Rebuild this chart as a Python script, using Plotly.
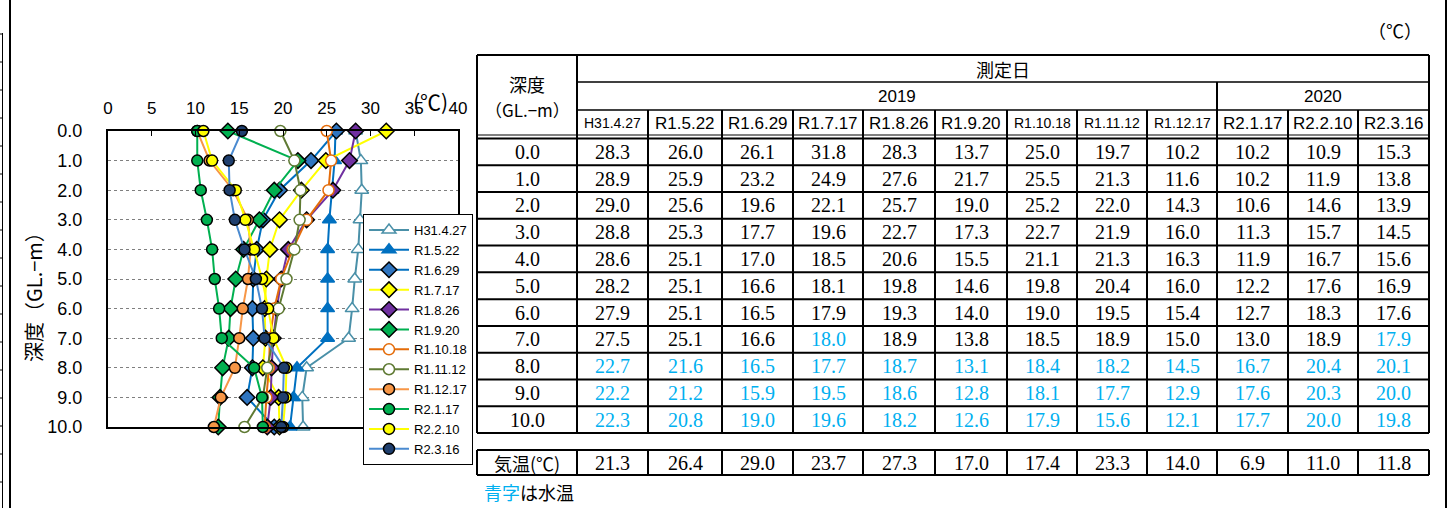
import plotly.graph_objects as go

W, H = 1456, 508

# ---------------- data ----------------
depths = [0.0, 1.0, 2.0, 3.0, 4.0, 5.0, 6.0, 7.0, 8.0, 9.0, 10.0]
dates = ["H31.4.27", "R1.5.22", "R1.6.29", "R1.7.17", "R1.8.26", "R1.9.20",
         "R1.10.18", "R1.11.12", "R1.12.17", "R2.1.17", "R2.2.10", "R2.3.16"]
years = ["2019", "2020"]
year_col_counts = [9, 3]

t_H31_4_27 = [28.3, 28.9, 29.0, 28.8, 28.6, 28.2, 27.9, 27.5, 22.7, 22.2, 22.3]
t_R1_5_22 = [26.0, 25.9, 25.6, 25.3, 25.1, 25.1, 25.1, 25.1, 21.6, 21.2, 20.8]
t_R1_6_29 = [26.1, 23.2, 19.6, 17.7, 17.0, 16.6, 16.5, 16.6, 16.5, 15.9, 19.0]
t_R1_7_17 = [31.8, 24.9, 22.1, 19.6, 18.5, 18.1, 17.9, 18.0, 17.7, 19.5, 19.6]
t_R1_8_26 = [28.3, 27.6, 25.7, 22.7, 20.6, 19.8, 19.3, 18.9, 18.7, 18.6, 18.2]
t_R1_9_20 = [13.7, 21.7, 19.0, 17.3, 15.5, 14.6, 14.0, 13.8, 13.1, 12.8, 12.6]
t_R1_10_18 = [25.0, 25.5, 25.2, 22.7, 21.1, 19.8, 19.0, 18.5, 18.4, 18.1, 17.9]
t_R1_11_12 = [19.7, 21.3, 22.0, 21.9, 21.3, 20.4, 19.5, 18.9, 18.2, 17.7, 15.6]
t_R1_12_17 = [10.2, 11.6, 14.3, 16.0, 16.3, 16.0, 15.4, 15.0, 14.5, 12.9, 12.1]
t_R2_1_17 = [10.2, 10.2, 10.6, 11.3, 11.9, 12.2, 12.7, 13.0, 16.7, 17.6, 17.7]
t_R2_2_10 = [10.9, 11.9, 14.6, 15.7, 16.7, 17.6, 18.3, 18.9, 20.4, 20.3, 20.0]
t_R2_3_16 = [15.3, 13.8, 13.9, 14.5, 15.6, 16.9, 17.6, 17.9, 20.1, 20.0, 19.8]

air_temp = [21.3, 26.4, 29.0, 23.7, 27.3, 17.0, 17.4, 23.3, 14.0, 6.9, 11.0, 11.8]
# depth from which the value is water temperature (blue text)
water_from = [8.0, 8.0, 8.0, 7.0, 8.0, 8.0, 8.0, 8.0, 8.0, 8.0, 8.0, 7.0]

series = [t_H31_4_27, t_R1_5_22, t_R1_6_29, t_R1_7_17, t_R1_8_26, t_R1_9_20,
          t_R1_10_18, t_R1_11_12, t_R1_12_17, t_R2_1_17, t_R2_2_10, t_R2_3_16]

# ---------------- styles ----------------
styles = [
    dict(line="#4A90A8", symbol="triangle-up", fill="#FFFFFF", edge="#4A90A8", size=12),
    dict(line="#0070C0", symbol="triangle-up", fill="#0070C0", edge="#0070C0", size=12),
    dict(line="#0070C0", symbol="diamond", fill="#2F75C0", edge="#000000", size=12),
    dict(line="#FFFF00", symbol="diamond", fill="#FFFF00", edge="#000000", size=12),
    dict(line="#7030A0", symbol="diamond", fill="#7030A0", edge="#000000", size=12),
    dict(line="#00B050", symbol="diamond", fill="#00B050", edge="#000000", size=12),
    dict(line="#E46C0A", symbol="circle", fill="#FFFFFF", edge="#E46C0A", size=11),
    dict(line="#5F7A33", symbol="circle", fill="#FFFFFF", edge="#5F7A33", size=11),
    dict(line="#F79646", symbol="circle", fill="#F79646", edge="#000000", size=11),
    dict(line="#00B050", symbol="circle", fill="#00B050", edge="#000000", size=11),
    dict(line="#FFFF00", symbol="circle", fill="#FFFF00", edge="#000000", size=11),
    dict(line="#4A8AD0", symbol="circle", fill="#1F3F6E", edge="#000000", size=11),
]

SANS = "Liberation Sans, Arial, sans-serif"
SERIF = "Liberation Serif, Times New Roman, serif"
CJK = "Noto Sans CJK JP, sans-serif"
BLUE_TXT = "#00B0F0"


def fx(x):
    return x / W


def fy(y):
    return 1 - y / H


fig = go.Figure()

for name, vals, st in zip(dates, series, styles):
    fig.add_trace(go.Scatter(
        x=vals, y=depths, name=name, mode="lines+markers",
        line=dict(color=st["line"], width=2),
        marker=dict(symbol=st["symbol"], size=st["size"], color=st["fill"],
                    line=dict(color=st["edge"], width=1.5)),
        cliponaxis=False,
    ))

# chart geometry (pixels)
PL, PR, PT, PB = 108, 458, 131, 427

fig.update_layout(
    width=W, height=H, autosize=False,
    margin=dict(l=0, r=0, t=0, b=0, pad=0, autoexpand=False),
    paper_bgcolor="white", plot_bgcolor="white",
    showlegend=True,
    legend=dict(
        x=fx(363), y=fy(214), xanchor="left", yanchor="top",
        bgcolor="white", bordercolor="black", borderwidth=1,
        font=dict(family=SANS, size=13, color="black"),
        itemwidth=40, tracegroupgap=0,
    ),
    xaxis=dict(
        domain=[fx(PL), fx(PR)], range=[0, 40], side="top", automargin=False,
        tickvals=[0, 5, 10, 15, 20, 25, 30, 35, 40],
        ticks="inside", ticklen=5, tickcolor="black", tickwidth=1,
        showgrid=False, zeroline=False,
        showline=True, linecolor="black", linewidth=2, mirror=True,
        tickfont=dict(family=SANS, size=17, color="black"),
        ticklabelstandoff=8,
    ),
    yaxis=dict(
        domain=[fy(PB), fy(PT)], range=[10, 0], automargin=False,
        tickvals=depths, tickformat=".1f",
        ticks="", showgrid=True, gridcolor="#7F7F7F", griddash="dot", gridwidth=1,
        zeroline=False,
        showline=True, linecolor="black", linewidth=2, mirror=True,
        tickfont=dict(family=SANS, size=18, color="black"),
        ticklabelstandoff=20,
    ),
)

annotations = []
shapes = []

# chart unit + axis title
annotations.append(dict(x=fx(430), y=fy(101), xref="paper", yref="paper", text="(℃)",
                        xanchor="center", yanchor="middle",
                        showarrow=False, font=dict(family=CJK, size=21, color="black")))
annotations.append(dict(x=fx(33), y=fy(292), xref="paper", yref="paper", text="深度（GL.−m）",
                        textangle=-90, showarrow=False, xanchor="center", yanchor="middle",
                        font=dict(family=CJK, size=20, color="black")))

# left-edge decorations
shapes.append(dict(type="line", xref="paper", yref="paper", x0=fx(2.5), x1=fx(2.5),
                   y0=fy(33), y1=fy(508), line=dict(color="black", width=1)))
ty = 34
while ty < H:
    shapes.append(dict(type="line", xref="paper", yref="paper", x0=fx(0), x1=fx(2.5),
                       y0=fy(ty), y1=fy(ty), line=dict(color="black", width=1)))
    ty += 28
shapes.append(dict(type="line", xref="paper", yref="paper", x0=fx(10), x1=fx(10),
                   y0=fy(0), y1=fy(508), line=dict(color="black", width=2)))
shapes.append(dict(type="line", xref="paper", yref="paper", x0=fx(1446), x1=fx(1446),
                   y0=fy(0), y1=fy(508), line=dict(color="black", width=2)))

# ---------------- table ----------------
TL, DC = 477, 577
col_widths = [71, 74, 71, 70, 72, 72, 70, 70, 70, 71, 70, 71]
edges = [DC]
for w_ in col_widths:
    edges.append(edges[-1] + w_)
TR = edges[-1]
T_TOP, R1, R2, R3a, R3b = 55, 82, 110, 135, 138.5
ROW_H = (433 - R3b) / len(depths)
row_edges = [R3b + i * ROW_H for i in range(len(depths) + 1)]
AT_TOP, AT_BOT = 450, 475


def hline(y, x0, x1, w=2):
    shapes.append(dict(type="line", xref="paper", yref="paper", x0=fx(x0), x1=fx(x1),
                       y0=fy(y), y1=fy(y), line=dict(color="black", width=w)))


def vline(x, y0, y1, w=2):
    shapes.append(dict(type="line", xref="paper", yref="paper", x0=fx(x), x1=fx(x),
                       y0=fy(y0), y1=fy(y1), line=dict(color="black", width=w)))


def txt(x, y, s, font, size, color="black", xanchor="center"):
    annotations.append(dict(x=fx(x), y=fy(y), xref="paper", yref="paper", text=s,
                            showarrow=False, xanchor=xanchor, yanchor="middle",
                            font=dict(family=font, size=size, color=color)))


# outer border
hline(T_TOP, TL, TR)
hline(row_edges[-1], TL, TR)
vline(TL, T_TOP, row_edges[-1])
vline(TR, T_TOP, row_edges[-1])
vline(DC, T_TOP, row_edges[-1])
hline(R1, DC, TR, 1.5)
hline(R2, DC, TR, 1.5)
hline(R3a, TL, TR, 1)
hline(R3b, TL, TR, 2)
# year separators
acc = 0
for cnt in year_col_counts[:-1]:
    acc += cnt
    vline(edges[acc], R1, row_edges[-1])
# date columns
for e in edges[1:-1]:
    vline(e, R2, row_edges[-1])
for ry in row_edges[1:-1]:
    hline(ry, TL, TR)

# header texts
txt((TL + DC) / 2, 84, "深度", CJK, 18)
txt((TL + DC) / 2, 109, "（GL.−m）", CJK, 17)
txt((DC + TR) / 2, 69, "測定日", CJK, 18)
acc = 0
for yr, cnt in zip(years, year_col_counts):
    txt((edges[acc] + edges[acc + cnt]) / 2, 96, yr, SANS, 17)
    acc += cnt
for i, d in enumerate(dates):
    size = 14 if len(d) >= 8 else 17
    txt((edges[i] + edges[i + 1]) / 2, 123, d, SANS, size)

# body
for r, dep in enumerate(depths):
    cy = (row_edges[r] + row_edges[r + 1]) / 2
    txt((TL + DC) / 2, cy, f"{dep:.1f}", SERIF, 20)
    for c, vals in enumerate(series):
        col = BLUE_TXT if dep >= water_from[c] else "black"
        txt((edges[c] + edges[c + 1]) / 2, cy, f"{vals[r]:.1f}", SERIF, 20, col)

# air temperature row
hline(AT_TOP, TL, TR)
hline(AT_BOT, TL, TR)
vline(TL, AT_TOP, AT_BOT)
for e in edges:
    vline(e, AT_TOP, AT_BOT)
txt((TL + DC) / 2, 463, "気温(℃)", CJK, 18)
for c, v in enumerate(air_temp):
    txt((edges[c] + edges[c + 1]) / 2, 463, f"{v:.1f}", SERIF, 20)

# notes
txt(1395, 30, "（℃）", CJK, 18)
annotations.append(dict(x=fx(482), y=fy(492), xref="paper", yref="paper",
                        text=f"<span style='color:{BLUE_TXT}'>青字</span>は水温",
                        showarrow=False, xanchor="left", yanchor="middle",
                        font=dict(family=CJK, size=18, color="black")))

fig.update_layout(annotations=annotations, shapes=shapes)

post = (
    "var d=document.getElementsByClassName('plotly-graph-div')[0];"
    "document.documentElement.style.margin='0';document.documentElement.style.padding='0';"
    "document.documentElement.style.overflow='hidden';"
    "document.body.style.margin='0';document.body.style.padding='0';"
    "document.body.style.overflow='hidden';"
    "if(d){d.style.position='fixed';d.style.left='0px';d.style.top='0px';}"
)
fig.write_html("out.html", config={"displayModeBar": False}, post_script=post)
